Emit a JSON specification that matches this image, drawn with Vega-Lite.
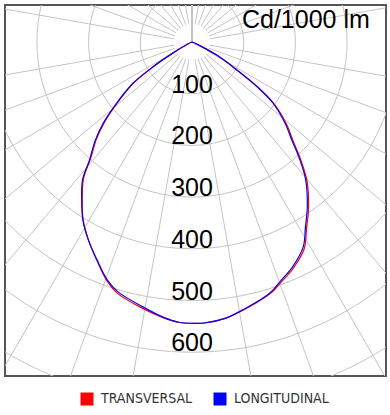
{
  "$schema": "https://vega.github.io/schema/vega-lite/v6.json",
  "autosize": {"type": "none"},
  "width": 381,
  "height": 371,
  "padding": {"left": 5, "top": 5, "right": 4, "bottom": 39},
  "background": "white",
  "config": {
    "view": {"stroke": "#555555", "strokeWidth": 2},
    "font": "Liberation Sans"
  },
  "datasets": {
    "circles": [{"r": 100}, {"r": 200}, {"r": 300}, {"r": 400}, {"r": 500}, {"r": 600}, {"r": 700}],
    "spokes": [
      {"a": 10}, {"a": 20}, {"a": 30}, {"a": 40}, {"a": 50}, {"a": 60}, {"a": 70}, {"a": 80},
      {"a": 100}, {"a": 110}, {"a": 120}, {"a": 130}, {"a": 140}, {"a": 150}, {"a": 160}, {"a": 170},
      {"a": 190}, {"a": 200}, {"a": 210}, {"a": 220}, {"a": 230}, {"a": 240}, {"a": 250}, {"a": 260},
      {"a": 280}, {"a": 290}, {"a": 300}, {"a": 310}, {"a": 320}, {"a": 330}, {"a": 340}, {"a": 350}
    ],
    "labels": [{"r": 100, "t": "100"}, {"r": 200, "t": "200"}, {"r": 300, "t": "300"}, {"r": 400, "t": "400"}, {"r": 500, "t": "500"}, {"r": 600, "t": "600"}],
    "curves": [
      {"s": "TRANSVERSAL", "angle": -70, "cd": 0},
      {"s": "TRANSVERSAL", "angle": -65, "cd": 8},
      {"s": "TRANSVERSAL", "angle": -60, "cd": 41},
      {"s": "TRANSVERSAL", "angle": -57.5, "cd": 88},
      {"s": "TRANSVERSAL", "angle": -55, "cd": 137},
      {"s": "TRANSVERSAL", "angle": -51, "cd": 184},
      {"s": "TRANSVERSAL", "angle": -47.5, "cd": 230},
      {"s": "TRANSVERSAL", "angle": -44.5, "cd": 264},
      {"s": "TRANSVERSAL", "angle": -41, "cd": 299},
      {"s": "TRANSVERSAL", "angle": -38.5, "cd": 337},
      {"s": "TRANSVERSAL", "angle": -35, "cd": 370},
      {"s": "TRANSVERSAL", "angle": -31.5, "cd": 403},
      {"s": "TRANSVERSAL", "angle": -27.5, "cd": 433},
      {"s": "TRANSVERSAL", "angle": -23.5, "cd": 461},
      {"s": "TRANSVERSAL", "angle": -19.5, "cd": 491},
      {"s": "TRANSVERSAL", "angle": -16.5, "cd": 507},
      {"s": "TRANSVERSAL", "angle": -10.5, "cd": 524},
      {"s": "TRANSVERSAL", "angle": -6, "cd": 536},
      {"s": "TRANSVERSAL", "angle": -2.5, "cd": 543},
      {"s": "TRANSVERSAL", "angle": 0, "cd": 544},
      {"s": "TRANSVERSAL", "angle": 2.5, "cd": 544},
      {"s": "TRANSVERSAL", "angle": 7, "cd": 538},
      {"s": "TRANSVERSAL", "angle": 11.5, "cd": 526},
      {"s": "TRANSVERSAL", "angle": 15.5, "cd": 515},
      {"s": "TRANSVERSAL", "angle": 18, "cd": 507},
      {"s": "TRANSVERSAL", "angle": 20.5, "cd": 495},
      {"s": "TRANSVERSAL", "angle": 24, "cd": 480},
      {"s": "TRANSVERSAL", "angle": 28.5, "cd": 455},
      {"s": "TRANSVERSAL", "angle": 31.5, "cd": 424},
      {"s": "TRANSVERSAL", "angle": 35, "cd": 393},
      {"s": "TRANSVERSAL", "angle": 39.5, "cd": 350},
      {"s": "TRANSVERSAL", "angle": 42.5, "cd": 313},
      {"s": "TRANSVERSAL", "angle": 45.5, "cd": 275},
      {"s": "TRANSVERSAL", "angle": 49, "cd": 242},
      {"s": "TRANSVERSAL", "angle": 53, "cd": 199},
      {"s": "TRANSVERSAL", "angle": 55.5, "cd": 156},
      {"s": "TRANSVERSAL", "angle": 58, "cd": 104},
      {"s": "TRANSVERSAL", "angle": 62, "cd": 55},
      {"s": "TRANSVERSAL", "angle": 66, "cd": 10},
      {"s": "TRANSVERSAL", "angle": 70, "cd": 0},
      {"s": "LONGITUDINAL", "angle": -70, "cd": 0},
      {"s": "LONGITUDINAL", "angle": -65, "cd": 8},
      {"s": "LONGITUDINAL", "angle": -60, "cd": 42},
      {"s": "LONGITUDINAL", "angle": -57.5, "cd": 90},
      {"s": "LONGITUDINAL", "angle": -55, "cd": 140},
      {"s": "LONGITUDINAL", "angle": -51, "cd": 187},
      {"s": "LONGITUDINAL", "angle": -47.5, "cd": 233},
      {"s": "LONGITUDINAL", "angle": -44.5, "cd": 267},
      {"s": "LONGITUDINAL", "angle": -41, "cd": 302},
      {"s": "LONGITUDINAL", "angle": -38.5, "cd": 340},
      {"s": "LONGITUDINAL", "angle": -35, "cd": 372},
      {"s": "LONGITUDINAL", "angle": -31.5, "cd": 404},
      {"s": "LONGITUDINAL", "angle": -27.5, "cd": 433},
      {"s": "LONGITUDINAL", "angle": -23.5, "cd": 460},
      {"s": "LONGITUDINAL", "angle": -19.5, "cd": 489},
      {"s": "LONGITUDINAL", "angle": -16.5, "cd": 504},
      {"s": "LONGITUDINAL", "angle": -10.5, "cd": 521},
      {"s": "LONGITUDINAL", "angle": -6, "cd": 535},
      {"s": "LONGITUDINAL", "angle": -2.5, "cd": 543},
      {"s": "LONGITUDINAL", "angle": 0, "cd": 544},
      {"s": "LONGITUDINAL", "angle": 2.5, "cd": 544},
      {"s": "LONGITUDINAL", "angle": 7, "cd": 538},
      {"s": "LONGITUDINAL", "angle": 11.5, "cd": 525},
      {"s": "LONGITUDINAL", "angle": 15.5, "cd": 514},
      {"s": "LONGITUDINAL", "angle": 18, "cd": 505},
      {"s": "LONGITUDINAL", "angle": 20.5, "cd": 492},
      {"s": "LONGITUDINAL", "angle": 24, "cd": 477},
      {"s": "LONGITUDINAL", "angle": 28.5, "cd": 451},
      {"s": "LONGITUDINAL", "angle": 31.5, "cd": 420},
      {"s": "LONGITUDINAL", "angle": 35, "cd": 389},
      {"s": "LONGITUDINAL", "angle": 39.5, "cd": 346},
      {"s": "LONGITUDINAL", "angle": 42.5, "cd": 309},
      {"s": "LONGITUDINAL", "angle": 45.5, "cd": 271},
      {"s": "LONGITUDINAL", "angle": 49, "cd": 238},
      {"s": "LONGITUDINAL", "angle": 53, "cd": 196},
      {"s": "LONGITUDINAL", "angle": 55.5, "cd": 153},
      {"s": "LONGITUDINAL", "angle": 58, "cd": 103},
      {"s": "LONGITUDINAL", "angle": 62, "cd": 55},
      {"s": "LONGITUDINAL", "angle": 66, "cd": 10},
      {"s": "LONGITUDINAL", "angle": 70, "cd": 0}
    ]
  },
  "layer": [
    {
      "data": {"name": "circles"},
      "mark": {"type": "arc", "filled": false, "fill": null, "stroke": "#c4c4c4", "strokeWidth": 1, "theta": 0, "theta2": 6.2831, "clip": true},
      "encoding": {
        "x": {"datum": 0, "type": "quantitative", "scale": {"domain": [-361.7, 375.3], "nice": false, "zero": false}, "axis": null},
        "y": {"datum": 0, "type": "quantitative", "scale": {"domain": [-646, 71.6], "nice": false, "zero": false}, "axis": null},
        "radius": {"field": "r", "type": "quantitative", "stack": null, "scale": {"type": "linear", "domain": [0, 737], "range": [0, 381], "nice": false, "zero": true}, "legend": null}
      }
    },
    {
      "data": {"name": "spokes"},
      "transform": [
        {"calculate": "35*sin(datum.a*PI/180)", "as": "x0"},
        {"calculate": "-35*cos(datum.a*PI/180)", "as": "y0"},
        {"calculate": "1200*sin(datum.a*PI/180)", "as": "x1"},
        {"calculate": "-1200*cos(datum.a*PI/180)", "as": "y1"}
      ],
      "mark": {"type": "rule", "stroke": "#c4c4c4", "strokeWidth": 1, "clip": true},
      "encoding": {
        "x": {"field": "x0", "type": "quantitative"},
        "y": {"field": "y0", "type": "quantitative"},
        "x2": {"field": "x1"},
        "y2": {"field": "y1"}
      }
    },
    {
      "mark": {"type": "rule", "stroke": "#6e6e6e", "strokeWidth": 2, "clip": true},
      "encoding": {"y": {"datum": 0, "type": "quantitative"}}
    },
    {
      "mark": {"type": "rule", "stroke": "#222222", "strokeWidth": 1.3, "clip": true},
      "encoding": {"x": {"datum": 0, "type": "quantitative"}}
    },
    {
      "data": {"name": "curves"},
      "transform": [
        {"calculate": "datum.cd*sin(datum.angle*PI/180)", "as": "px"},
        {"calculate": "-datum.cd*cos(datum.angle*PI/180)", "as": "py"}
      ],
      "mark": {"type": "line", "strokeWidth": 1.2, "clip": true, "interpolate": "catmull-rom"},
      "encoding": {
        "x": {"field": "px", "type": "quantitative"},
        "y": {"field": "py", "type": "quantitative"},
        "order": {"field": "angle", "type": "quantitative"},
        "color": {
          "field": "s", "type": "nominal",
          "scale": {"domain": ["TRANSVERSAL", "LONGITUDINAL"], "range": ["#ff0000", "#0000ff"]},
          "legend": {
            "title": null,
            "orient": "none",
            "legendX": 75,
            "legendY": 387,
            "direction": "horizontal",
            "symbolType": "square",
            "symbolSize": 169,
            "symbolStrokeWidth": 0,
            "labelFont": "Liberation Sans Narrow, DejaVu Sans Condensed",
            "labelFontSize": 14,
            "labelColor": "#333333",
            "labelOffset": 7,
            "columnPadding": 20,
            "encode": {"symbols": {"update": {"fill": {"scale": "color", "field": "value"}, "stroke": {"value": "transparent"}}}}
          }
        }
      }
    },
    {
      "data": {"name": "labels"},
      "transform": [{"calculate": "-datum.r", "as": "r"}],
      "mark": {"type": "text", "font": "Liberation Sans", "fontSize": 25, "color": "#000000", "align": "center", "baseline": "alphabetic", "dy": -1},
      "encoding": {
        "x": {"datum": 0, "type": "quantitative"},
        "y": {"field": "r", "type": "quantitative"},
        "text": {"field": "t"}
      }
    },
    {
      "data": {"values": [{"t": "Cd/1000 lm"}]},
      "mark": {"type": "text", "font": "Liberation Sans", "fontSize": 25, "color": "#000000", "align": "right", "baseline": "alphabetic"},
      "encoding": {
        "x": {"datum": 344, "type": "quantitative"},
        "y": {"datum": 27, "type": "quantitative"},
        "text": {"field": "t"}
      }
    }
  ]
}
